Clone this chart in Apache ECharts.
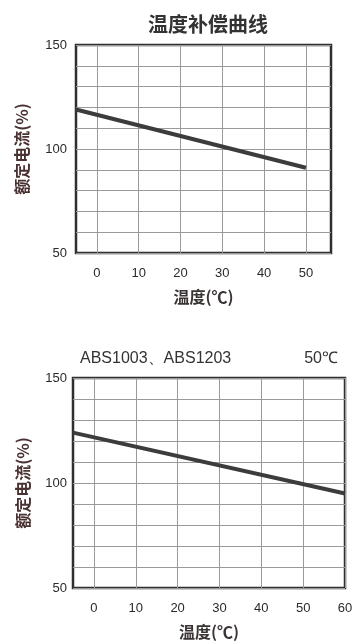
<!DOCTYPE html>
<html><head><meta charset="utf-8">
<script src="https://cdn.jsdelivr.net/npm/echarts@6/dist/echarts.min.js"></script>
<style>html,body{margin:0;padding:0;background:#fff}#c{width:358px;height:643px}</style>
</head><body><div id="c"></div>
<script>
const title1 = '温度补偿曲线';
const subtitleLeft = 'ABS1003、ABS1203';
const subtitleRight = '50℃';
const xName = '温度(℃)';
const yName = '额定电流(%)';
const temps1 = [-5, 50];
const current1 = [119, 91];
const temps2 = [-5, 60];
const current2 = [124, 95];
const xTicks1 = [0, 10, 20, 30, 40, 50];
const xTicks2 = [0, 10, 20, 30, 40, 50, 60];
const yLabels = [50, 100, 150];

const CJK = '"Noto Sans CJK SC", sans-serif';
const NUM = '"Liberation Sans", Arial, sans-serif';
const gridStyle = {show: true, borderColor: '#2f2f2f', borderWidth: 2.5, backgroundColor: '#fff'};
const splitStyle = {show: true, lineStyle: {color: '#9a9a9a', width: 1}};

function xAxis(idx, min, max, ticks) {
  return {
    type: 'value', gridIndex: idx, min: min, max: max,
    name: xName, nameLocation: 'middle', nameGap: 36,
    nameTextStyle: {fontFamily: CJK, fontSize: 16, fontWeight: 'bold', color: '#3a3434'},
    axisLine: {show: false},
    axisTick: {show: false, customValues: ticks},
    axisLabel: {customValues: ticks, margin: 14, fontFamily: NUM, fontSize: 13, color: '#2a2a2a'},
    splitLine: splitStyle
  };
}
function yAxis(idx, gap, margin) {
  return {
    type: 'value', gridIndex: idx, min: 50, max: 150, interval: 10,
    name: yName, nameLocation: 'middle', nameGap: gap, nameRotate: 90,
    nameTextStyle: {fontFamily: CJK, fontSize: 16, fontWeight: 'bold', color: '#4a3232'},
    axisLine: {show: false}, axisTick: {show: false},
    axisLabel: {margin: margin, fontFamily: NUM, fontSize: 13, color: '#2a2a2a',
      formatter: v => yLabels.indexOf(v) >= 0 ? String(v) : ''},
    splitLine: splitStyle
  };
}

const chart = echarts.init(document.getElementById('c'), null, {renderer: 'canvas'});
chart.setOption({
  animation: false,
  backgroundColor: '#fff',
  title: [
    {text: title1, left: 203, top: 9, textAlign: 'center',
      textStyle: {fontFamily: CJK, fontSize: 20, fontWeight: 'bold', color: '#333'}},
    {text: subtitleLeft, left: 75, top: 346,
      textStyle: {fontFamily: NUM, fontSize: 16, fontWeight: 'normal', color: '#333'}},
    {text: subtitleRight, right: 15, top: 346,
      textStyle: {fontFamily: NUM, fontSize: 16, fontWeight: 'normal', color: '#333'}}
  ],
  grid: [
    Object.assign({left: 76, top: 45, width: 255, height: 208}, gridStyle),
    Object.assign({left: 73, top: 378, width: 272, height: 210}, gridStyle)
  ],
  xAxis: [xAxis(0, -5, 56, xTicks1), xAxis(1, -5, 60, xTicks2)],
  yAxis: [yAxis(0, 46, 9), yAxis(1, 42, 6)],
  series: [
    {type: 'line', xAxisIndex: 0, yAxisIndex: 0, symbol: 'none',
      data: temps1.map((t, i) => [t, current1[i]]),
      lineStyle: {color: '#3c3c3c', width: 4}},
    {type: 'line', xAxisIndex: 1, yAxisIndex: 1, symbol: 'none',
      data: temps2.map((t, i) => [t, current2[i]]),
      lineStyle: {color: '#3c3c3c', width: 4}}
  ]
});
</script></body></html>
